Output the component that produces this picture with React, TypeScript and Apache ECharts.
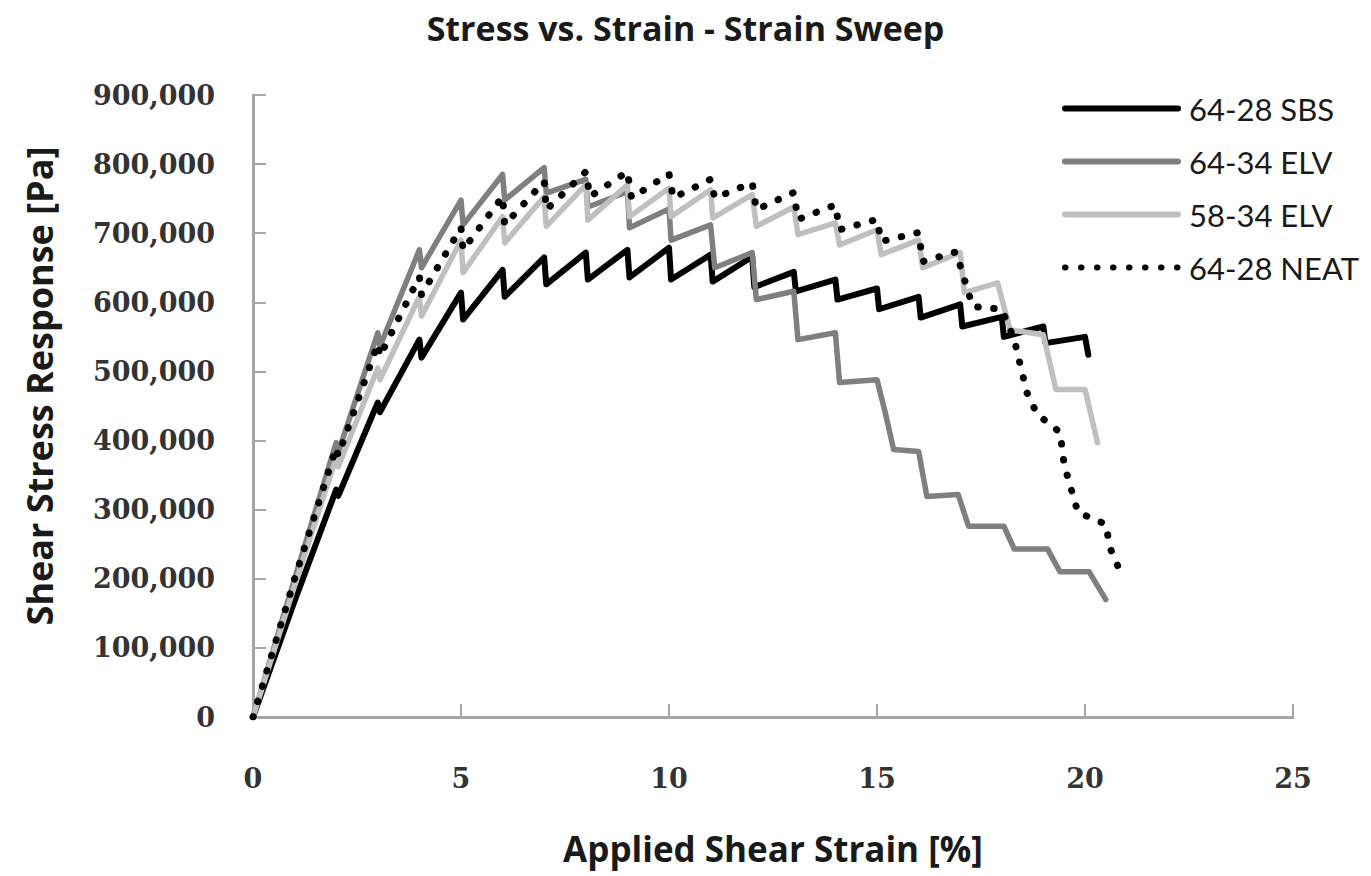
import React, { useEffect, useRef } from "react";
import * as echarts from "echarts";

// Strain sweep: shear strain [%] and shear stress [Pa] for each binder.
// Each step loads to a peak at the strain level and relaxes before the next step.
const sbsStrain = [0, 1, 2, 2.05, 3, 3.05, 4, 4.05, 5, 5.05, 6, 6.05, 7, 7.05, 8, 8.05, 9, 9.05, 10, 10.05, 11, 11.05, 12, 12.05, 13, 13.05, 14, 14.05, 15, 15.05, 16, 16.05, 17, 17.05, 18, 18.05, 19, 19.05, 20, 20.08];
const sbsStress = [0, 168000, 329000, 320000, 455000, 441000, 546000, 520000, 614000, 575000, 647000, 608000, 665000, 626000, 672000, 633000, 676000, 636000, 679000, 633000, 669000, 630000, 666000, 622000, 644000, 616000, 633000, 604000, 620000, 590000, 608000, 578000, 597000, 565000, 579000, 550000, 565000, 541000, 550000, 524000];

const elv6434Strain = [0, 1, 2, 2.05, 3, 3.05, 4, 4.05, 5, 5.05, 6, 6.05, 7, 7.05, 8, 8.05, 9, 9.05, 10, 10.05, 11, 11.1, 12, 12.1, 13, 13.1, 14, 14.1, 15, 15.2, 15.4, 16, 16.2, 16.95, 17.2, 18.05, 18.3, 19.1, 19.4, 20.1, 20.5];
const elv6434Stress = [0, 200000, 397000, 383000, 556000, 536000, 676000, 650000, 748000, 712000, 785000, 748000, 795000, 758000, 778000, 738000, 760000, 708000, 735000, 690000, 712000, 650000, 672000, 604000, 616000, 546000, 556000, 484000, 488000, 440000, 387000, 384000, 319000, 322000, 276000, 276000, 243000, 243000, 210000, 210000, 170000];

const elv5834Strain = [0, 1, 2, 2.05, 3, 3.05, 4, 4.05, 5, 5.05, 6, 6.05, 7, 7.05, 8, 8.05, 9, 9.05, 10, 10.05, 11, 11.05, 12, 12.1, 13, 13.1, 14, 14.1, 15, 15.1, 16, 16.1, 17, 17.1, 17.9, 18.2, 19, 19.3, 20, 20.3];
const elv5834Stress = [0, 190000, 375000, 362000, 505000, 488000, 608000, 580000, 690000, 643000, 724000, 686000, 753000, 710000, 770000, 719000, 770000, 724000, 765000, 724000, 763000, 722000, 756000, 710000, 738000, 698000, 715000, 683000, 705000, 669000, 690000, 650000, 672000, 614000, 628000, 560000, 553000, 474000, 474000, 397000];

const neatStrain = [0, 1, 2, 2.05, 3, 3.05, 4, 4.05, 5, 5.05, 6, 6.05, 7, 7.05, 8, 8.1, 9, 9.1, 10, 10.1, 11, 11.1, 12, 12.1, 13, 13.1, 14, 14.1, 15, 15.1, 16, 16.1, 16.9, 17.3, 18, 18.3, 18.6, 18.85, 19.4, 19.5, 19.83, 20.5, 20.6, 20.84];
const neatStress = [0, 200000, 390000, 378000, 540000, 522000, 637000, 611000, 708000, 676000, 753000, 712000, 775000, 734000, 789000, 753000, 789000, 751000, 786000, 751000, 778000, 751000, 773000, 734000, 759000, 720000, 741000, 705000, 720000, 688000, 701000, 659000, 673000, 594000, 590000, 546000, 470000, 438000, 412000, 365000, 296000, 279000, 245000, 211000];

const seriesNames = ["64-28 SBS", "64-34 ELV", "58-34 ELV", "64-28 NEAT"];
const xTicks = { min: 0, max: 25, interval: 5 };
const yTicks = { min: 0, max: 900000, interval: 100000 };

const toPairs = (xs: number[], ys: number[]) => xs.map((x, i) => [x, ys[i]]);

const labelFont = "'DejaVu Serif', 'Liberation Serif', serif";
const headFont = "'Open Sans', Lato, sans-serif";
const legendFont = "Lato, 'Open Sans', sans-serif";

export default function App() {
  const ref = useRef<HTMLDivElement>(null);

  useEffect(() => {
    const chart = echarts.init(ref.current!, null, { renderer: "svg" });
    const axisGray = "#a6a6a6";
    chart.setOption({
      animation: false,
      backgroundColor: "#ffffff",
      title: {
        text: "Stress vs. Strain - Strain Sweep",
        left: "center",
        top: 6,
        textStyle: { fontFamily: headFont, fontWeight: "bold", fontSize: 34, color: "#1a1a1a" },
      },
      legend: {
        orient: "vertical",
        left: 1057,
        top: 88,
        itemWidth: 113,
        itemHeight: 8,
        itemGap: 22,
        data: seriesNames,
        textStyle: { fontFamily: legendFont, fontSize: 31, color: "#1a1a1a", padding: [0, 0, 0, 6] },
        itemStyle: { color: "transparent", borderColor: "transparent", borderWidth: 0 },
        lineStyle: { width: 6, cap: "round" },
      },
      grid: { left: 253, right: 78, top: 95, bottom: 159 },
      xAxis: {
        type: "value",
        min: xTicks.min,
        max: xTicks.max,
        interval: xTicks.interval,
        name: "Applied Shear Strain [%]",
        nameLocation: "middle",
        nameGap: 114,
        nameTextStyle: { fontFamily: headFont, fontWeight: "bold", fontSize: 35, color: "#1a1a1a" },
        axisLine: { lineStyle: { color: axisGray, width: 3 } },
        axisTick: { inside: true, length: 13, lineStyle: { color: axisGray, width: 2 } },
        axisLabel: { fontFamily: labelFont, fontWeight: "bold", fontSize: 27, color: "#333333", margin: 48 },
        splitLine: { show: false },
      },
      yAxis: {
        type: "value",
        min: yTicks.min,
        max: yTicks.max,
        interval: yTicks.interval,
        name: "Shear Stress Response [Pa]",
        nameLocation: "middle",
        nameGap: 196,
        nameTextStyle: {
          fontFamily: headFont,
          fontWeight: "bold",
          fontSize: 36,
          color: "#1a1a1a",
          padding: [0, 0, 0, 40],
        },
        axisLine: { show: true, lineStyle: { color: axisGray, width: 3 } },
        axisTick: { show: true, inside: true, length: 13, lineStyle: { color: axisGray, width: 2 } },
        axisLabel: {
          fontFamily: labelFont,
          fontWeight: "bold",
          fontSize: 27,
          color: "#333333",
          margin: 38,
          formatter: (v: number) => v.toLocaleString("en-US"),
        },
        splitLine: { show: false },
      },
      series: [
        {
          name: seriesNames[0],
          type: "line",
          symbol: "none",
          data: toPairs(sbsStrain, sbsStress),
          itemStyle: { color: "#000000" },
          lineStyle: { color: "#000000", width: 6, join: "round", cap: "round" },
        },
        {
          name: seriesNames[1],
          type: "line",
          symbol: "none",
          data: toPairs(elv6434Strain, elv6434Stress),
          itemStyle: { color: "#7f7f7f" },
          lineStyle: { color: "#7f7f7f", width: 5.5, join: "round", cap: "round" },
        },
        {
          name: seriesNames[2],
          type: "line",
          symbol: "none",
          data: toPairs(elv5834Strain, elv5834Stress),
          itemStyle: { color: "#bfbfbf" },
          lineStyle: { color: "#bfbfbf", width: 5.5, join: "round", cap: "round" },
        },
        {
          name: seriesNames[3],
          type: "line",
          symbol: "none",
          data: toPairs(neatStrain, neatStress),
          itemStyle: { color: "#000000" },
          lineStyle: { color: "#000000", width: 7, type: [0.5, 15.5], cap: "round", join: "round" },
        },
      ],
    });
    return () => chart.dispose();
  }, []);

  return (
    <div
      ref={ref}
      style={{ position: "fixed", left: 0, top: 0, width: 1371, height: 876, background: "#fff" }}
    />
  );
}
